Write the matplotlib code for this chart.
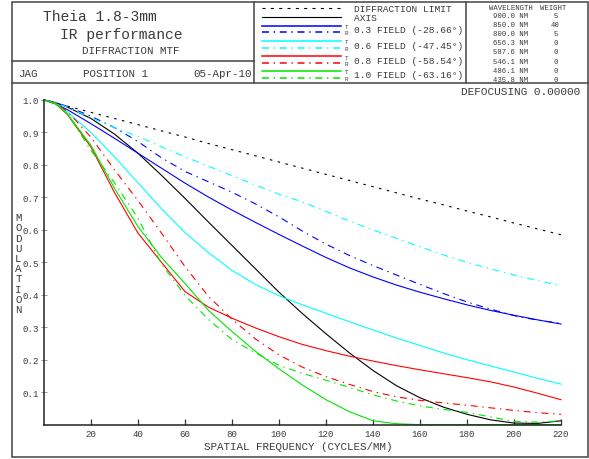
import matplotlib
matplotlib.use('Agg')
import matplotlib.pyplot as plt
from matplotlib.patches import Rectangle

plt.rcParams['font.family'] = ['Liberation Mono', 'DejaVu Sans Mono']
plt.rcParams['lines.scale_dashes'] = False

# ---------------- data ----------------
freq = [0, 5, 10, 20, 30, 40, 50, 60, 70, 80, 90, 100, 110, 120, 130, 140,
        150, 160, 170, 180, 190, 200, 210, 220]

diffraction_limit = [1.0, 0.990, 0.981, 0.962, 0.943, 0.924, 0.905, 0.886, 0.866, 0.847,
                     0.828, 0.809, 0.790, 0.771, 0.752, 0.733, 0.714, 0.695, 0.677,
                     0.658, 0.640, 0.621, 0.603, 0.585]
axis_mtf = [1.0, 0.992, 0.978, 0.943, 0.895, 0.836, 0.768, 0.697, 0.624, 0.552, 0.480,
            0.408, 0.342, 0.280, 0.221, 0.167, 0.120, 0.083, 0.054, 0.032, 0.015,
            0.005, 0.004, 0.012]
f03_T = [1.0, 0.988, 0.970, 0.927, 0.882, 0.836, 0.790, 0.744, 0.701, 0.661, 0.623,
         0.586, 0.550, 0.515, 0.483, 0.455, 0.430, 0.408, 0.388, 0.369, 0.352,
         0.337, 0.323, 0.310]
f03_R = [1.0, 0.993, 0.980, 0.950, 0.915, 0.872, 0.822, 0.780, 0.748, 0.716, 0.680,
         0.640, 0.596, 0.556, 0.521, 0.490, 0.461, 0.432, 0.404, 0.378, 0.356,
         0.336, 0.322, 0.312]
f06_T = [1.0, 0.990, 0.963, 0.900, 0.825, 0.745, 0.665, 0.592, 0.530, 0.475, 0.432,
         0.397, 0.369, 0.343, 0.317, 0.292, 0.267, 0.244, 0.221, 0.200, 0.181,
         0.162, 0.143, 0.125]
f06_R = [1.0, 0.992, 0.978, 0.945, 0.915, 0.888, 0.856, 0.825, 0.796, 0.767, 0.738,
         0.710, 0.686, 0.657, 0.627, 0.600, 0.574, 0.548, 0.523, 0.500, 0.480,
         0.461, 0.444, 0.428]
f08_T = [1.0, 0.988, 0.955, 0.855, 0.715, 0.590, 0.500, 0.410, 0.362, 0.328, 0.298,
         0.271, 0.247, 0.228, 0.211, 0.196, 0.182, 0.169, 0.157, 0.145, 0.132,
         0.116, 0.097, 0.077]
f08_R = [1.0, 0.990, 0.965, 0.885, 0.785, 0.690, 0.590, 0.487, 0.395, 0.325, 0.264,
         0.215, 0.177, 0.148, 0.124, 0.102, 0.086, 0.075, 0.067, 0.060, 0.052,
         0.044, 0.037, 0.032]
f10_T = [1.0, 0.988, 0.957, 0.860, 0.728, 0.610, 0.515, 0.435, 0.352, 0.287, 0.226,
         0.172, 0.122, 0.077, 0.040, 0.012, 0.003, 0.0, 0.0, 0.0, 0.0, 0.0, 0.0, 0.0]
f10_R = [1.0, 0.988, 0.958, 0.845, 0.745, 0.636, 0.495, 0.398, 0.324, 0.262, 0.221,
         0.183, 0.158, 0.137, 0.115, 0.092, 0.073, 0.058, 0.047, 0.038, 0.024,
         0.010, 0.008, 0.012]

xticks = [20, 40, 60, 80, 100, 120, 140, 160, 180, 200, 220]
yticks = [0.1, 0.2, 0.3, 0.4, 0.5, 0.6, 0.7, 0.8, 0.9, 1.0]
field_labels = ['0.3 FIELD (-28.66\u00b0)', '0.6 FIELD (-47.45\u00b0)',
                '0.8 FIELD (-58.54\u00b0)', '1.0 FIELD (-63.16\u00b0)']
wavelengths = ['900.0 NM', '850.0 NM', '800.0 NM', '656.3 NM', '587.6 NM',
               '546.1 NM', '486.1 NM', '435.8 NM']
weights = ['5', '40', '5', '0', '0', '0', '0', '0']

# ---------------- styles ----------------
BLUE, CYAN, RED, GREEN = '#0000ff', '#00ffff', '#ff0000', '#00e600'
DOT = (0, (1.8, 4.0))
DASHDOT = (0, (5.0, 3.4, 1.0, 3.4))
TXT = '#3a3a3a'
LW = 0.8

W, H = 589, 460
fig = plt.figure(figsize=(W / 100, H / 100), dpi=100)
fig.patch.set_facecolor('white')

# overlay for frame / header, pixel coordinates
ov = fig.add_axes([0, 0, 1, 1])
ov.set_xlim(0, W)
ov.set_ylim(H, 0)
ov.axis('off')
ov.patch.set_alpha(0)

# main axes
x0, x1, ytop, ybot = 44, 561, 101, 425.7
ax = fig.add_axes([x0 / W, (H - ybot) / H, (x1 - x0) / W, (ybot - ytop) / H])
ax.set_xlim(0, 220)
ax.set_ylim(0, 1.0)
ax.patch.set_alpha(0)

series = [
    (diffraction_limit, 'black', DOT),
    (axis_mtf, 'black', '-'),
    (f03_T, BLUE, '-'), (f03_R, BLUE, DASHDOT),
    (f06_T, CYAN, '-'), (f06_R, CYAN, DASHDOT),
    (f08_T, RED, '-'), (f08_R, RED, DASHDOT),
    (f10_T, GREEN, '-'), (f10_R, GREEN, DASHDOT),
]
for vals, col, ls in series:
    ax.plot(freq, vals, color=col, linestyle=ls, lw=LW, clip_on=False)

for s in ['top', 'right']:
    ax.spines[s].set_visible(False)
for s in ['left', 'bottom']:
    ax.spines[s].set_linewidth(1.1)
    ax.spines[s].set_color('#222222')

ax.set_xticks(xticks)
ax.set_xticklabels([str(v) for v in xticks])
ax.set_yticks(yticks)
ax.set_yticklabels(['%.1f' % v for v in yticks])
ax.tick_params(axis='x', direction='in', length=4.3, width=0.9, color='#333333',
               labelsize=6.6, labelcolor=TXT, pad=3)
ax.tick_params(axis='y', direction='inout', length=4.5, width=0.7, color='#999999',
               labelsize=6.6, labelcolor=TXT, pad=1.5)

# axis titles
ov.text((204 + 393) / 2, 446.7, 'SPATIAL FREQUENCY (CYCLES/MM)', ha='center', va='center',
        fontsize=7.8, color=TXT)
for i, ch in enumerate('MODULATION'):
    ov.text(18.5, 218.3 + i * 10.2, ch, ha='center', va='center', fontsize=7.8, color=TXT)

ov.text(580, 91.7, 'DEFOCUSING 0.00000', ha='right', va='center', fontsize=8, color=TXT)

# ---------------- frame & header ----------------
FC = '#444444'
ov.add_patch(Rectangle((12, 3), 575.5, 455, fill=False, edgecolor=FC, lw=1.1, clip_on=False))
ov.plot([12, 587.5], [84, 84], color=FC, lw=1.1, clip_on=False)
ov.plot([12, 254], [62, 62], color=FC, lw=1.1, clip_on=False)
ov.plot([254, 254], [3, 84], color=FC, lw=1.1, clip_on=False)
ov.plot([466, 466], [3, 84], color=FC, lw=1.1, clip_on=False)

ov.text(100, 17, 'Theia 1.8-3mm', ha='center', va='center', fontsize=10.5, color=TXT)
ov.text(121.5, 35, 'IR performance', ha='center', va='center', fontsize=10.5, color=TXT)
ov.text(131, 51, 'DIFFRACTION MTF', ha='center', va='center', fontsize=7.8, color=TXT)
ov.text(18, 74, 'JAG', ha='left', va='center', fontsize=7.8, color=TXT)
ov.text(115.5, 74, 'POSITION 1', ha='center', va='center', fontsize=7.8, color=TXT)
ov.text(252, 74, '05-Apr-10', ha='right', va='center', fontsize=7.8, color=TXT)

# legend block
lx0, lx1, tx = 262, 341, 354
ov.plot([lx0, lx1], [9, 9], color='black', ls=(0, (2.2, 3.8)), lw=LW, clip_on=False)
ov.text(tx, 9, 'DIFFRACTION LIMIT', ha='left', va='center', fontsize=6.8, color=TXT)
ov.plot([lx0, lx1], [18.3, 18.3], color='black', ls='-', lw=LW, clip_on=False)
ov.text(tx, 18.5, 'AXIS', ha='left', va='center', fontsize=6.8, color=TXT)
field_cols = [BLUE, CYAN, RED, GREEN]
t_y = [26.5, 42, 57.3, 71.7]
r_y = [33.3, 49.3, 64.0, 79]
for col, lab, yt, yr in zip(field_cols, field_labels, t_y, r_y):
    ov.plot([lx0, lx1], [yt, yt], color=col, ls='-', lw=1.1, clip_on=False)
    ov.plot([lx0, lx1], [yr, yr], color=col, ls=DASHDOT, lw=1.1, clip_on=False)
    ov.text(346.5, yt + 0.8, 'T', ha='center', va='center', fontsize=4.2, color=TXT)
    ov.text(346.5, yr + 0.3, 'R', ha='center', va='center', fontsize=4.2, color=TXT)
    ov.text(tx, (yt + yr) / 2 + 0.5, lab, ha='left', va='center', fontsize=6.8, color=TXT)

# wavelength table
ov.text(511, 9, 'WAVELENGTH', ha='center', va='center', fontsize=5.2, color=TXT)
ov.text(553, 9, 'WEIGHT', ha='center', va='center', fontsize=5.2, color=TXT)
for i, (wl, wt) in enumerate(zip(wavelengths, weights)):
    yy = 16.5 + i * 9.1
    ov.text(510.5, yy, wl, ha='center', va='center', fontsize=5.2, color=TXT)
    ov.text(555.5, yy, wt, ha='center', va='center', fontsize=5.2, color=TXT)

fig.savefig('out.png', dpi=100)
